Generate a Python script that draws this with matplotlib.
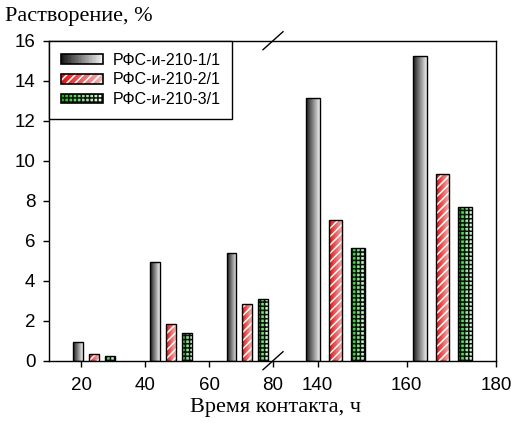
import numpy as np
import matplotlib.pyplot as plt
from matplotlib.patches import Rectangle
from matplotlib.lines import Line2D
from matplotlib.legend_handler import HandlerBase
from matplotlib.colors import LinearSegmentedColormap

# contact time, h (groups on the broken x axis)
hours = [24, 48, 72, 144, 168]
labels = ['РФС-и-210-1/1', 'РФС-и-210-2/1', 'РФС-и-210-3/1']
# dissolution, %
rfs_1 = [0.95, 4.95, 5.40, 13.12, 15.24]
rfs_2 = [0.32, 1.82, 2.85, 7.05, 9.35]
rfs_3 = [0.25, 1.39, 3.08, 5.62, 7.70]

offsets = [-5, 0, 5]
bar_w = 3.1

styles = [
    dict(c0='#1a1a1a', c1='#f0f0f0', hatch=None, hc=None),
    dict(c0='#e01010', c1='#f0b8b8', hatch='////', hc='white'),
    dict(c0='#10c810', c1='#e8ffe8', hatch='++++', hc='#101010'),
]

plt.rcParams['hatch.linewidth'] = 1.1
tick_font = 'Liberation Sans'
label_font = 'Liberation Serif'


def ramp(st):
    return LinearSegmentedColormap.from_list('r', [st['c0'], st['c1']])


def draw_bars(ax, xs, hs, st):
    cmap = ramp(st)
    grad = np.linspace(0, 1, 64).reshape(1, -1)
    outline = ax.bar(xs, hs, bar_w, facecolor='none', edgecolor='black',
                     linewidth=1.0, zorder=4)
    for rect in outline:
        x0 = rect.get_x()
        im = ax.imshow(grad, extent=[x0, x0 + bar_w, 0, rect.get_height()],
                       cmap=cmap, aspect='auto', zorder=2,
                       interpolation='bilinear')
        im.set_clip_path(rect)
    if st['hatch']:
        ax.bar(xs, hs, bar_w, facecolor='none', edgecolor=st['hc'],
               hatch=st['hatch'], linewidth=0, zorder=3)


class GradHandler(HandlerBase):
    def __init__(self, st):
        super().__init__()
        self.st = st

    def create_artists(self, legend, orig_handle, xdescent, ydescent,
                       width, height, fontsize, trans):
        cmap = ramp(self.st)
        n = 30
        arts = []
        for i in range(n):
            r = Rectangle((-xdescent + width * i / n, -ydescent), width / n + 0.3,
                          height, facecolor=cmap(i / (n - 1)), linewidth=0,
                          transform=trans)
            arts.append(r)
        if self.st['hatch']:
            arts.append(Rectangle((-xdescent, -ydescent), width, height,
                                  facecolor='none', edgecolor=self.st['hc'],
                                  hatch=self.st['hatch'], linewidth=0,
                                  transform=trans))
        arts.append(Rectangle((-xdescent, -ydescent), width, height,
                              facecolor='none', edgecolor='black',
                              linewidth=1.2, transform=trans))
        return arts


fig = plt.figure(figsize=(5.15, 4.23), dpi=100)
W, H = 515.0, 423.0
x_left, x_brk, x_right = 49.3, 273.0, 496.0
y_top, y_bot = 40.7, 360.7
bot = 1 - y_bot / H
hgt = (y_bot - y_top) / H
ax_l = fig.add_axes([x_left / W, bot, (x_brk - x_left) / W, hgt])
ax_r = fig.add_axes([x_brk / W, bot, (x_right - x_brk) / W, hgt])

series = [rfs_1, rfs_2, rfs_3]
hours = np.array(hours)
for k, vals in enumerate(series):
    vals = np.array(vals)
    xs = hours + offsets[k]
    m = hours < 100
    draw_bars(ax_l, xs[m], vals[m], styles[k])
    draw_bars(ax_r, xs[~m], vals[~m], styles[k])

ax_l.set_xlim(10, 80)
ax_r.set_xlim(130, 180)
ax_l.spines['right'].set_visible(False)
ax_r.spines['left'].set_visible(False)
ax_l.set_xticks([20, 40, 60, 80])
ax_r.set_xticks([140, 160, 180])
ax_l.set_yticks(range(0, 17, 2))
ax_r.set_yticks([])
for ax in (ax_l, ax_r):
    ax.set_ylim(0, 16)
    for sp in ax.spines.values():
        sp.set_linewidth(1.0)
    ax.tick_params(direction='out', length=4, width=1.0)
    ax.tick_params(axis='x', pad=8)
    ax.tick_params(axis='y', pad=6)
    for t in ax.get_xticklabels() + ax.get_yticklabels():
        t.set_fontfamily(tick_font)
        t.set_fontsize(13.5)

# axis break marks
for yc in (y_top, y_bot):
    fig.add_artist(Line2D([(x_brk - 10) / W, (x_brk + 10) / W],
                          [1 - (yc + 9) / H, 1 - (yc - 9) / H],
                          color='black', lw=1.0, transform=fig.transFigure))

proxies = [Rectangle((0, 0), 1, 1) for _ in labels]
leg = ax_l.legend(proxies, labels, loc='upper left', bbox_to_anchor=(0, 1),
                  borderaxespad=0, fancybox=False, edgecolor='black',
                  framealpha=1, handlelength=2.6, handleheight=0.55,
                  handletextpad=0.6, labelspacing=0.3, borderpad=0.75,
                  prop={'family': tick_font, 'size': 11.5},
                  handler_map={p: GradHandler(s) for p, s in zip(proxies, styles)})
leg.get_frame().set_linewidth(1.0)
leg.set_zorder(10)

fig.text(5 / W, 1 - 17 / H, 'Растворение, %', ha='left', va='center',
         fontsize=16, family=label_font)
fig.text(275 / W, 1 - 407 / H, 'Время контакта, ч', ha='center', va='center',
         fontsize=16, family=label_font)

fig.savefig('out.png', dpi=100)
